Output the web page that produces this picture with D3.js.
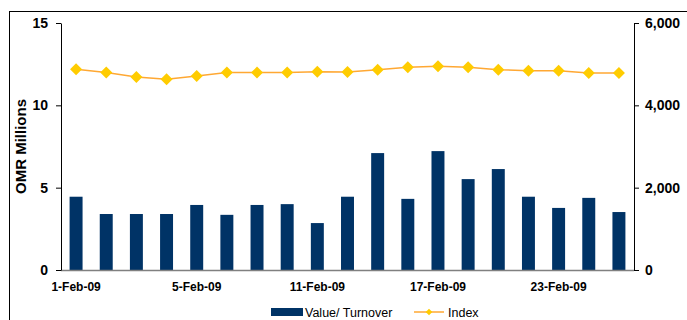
<!DOCTYPE html>
<html>
<head>
<meta charset="utf-8">
<script src="https://cdn.jsdelivr.net/npm/d3@7"></script>
<style>
  body { margin: 0; background: #fff; }
  svg { display: block; font-family: "Liberation Sans", Arial, sans-serif; }
  .tick text { font-weight: bold; fill: #000; }
</style>
</head>
<body>
<script>
// trading days shown on the x axis
var dates = ["1-Feb-09", "2-Feb-09", "3-Feb-09", "4-Feb-09", "5-Feb-09",
             "8-Feb-09", "9-Feb-09", "10-Feb-09", "11-Feb-09", "12-Feb-09",
             "15-Feb-09", "16-Feb-09", "17-Feb-09", "18-Feb-09", "19-Feb-09",
             "22-Feb-09", "23-Feb-09", "24-Feb-09", "25-Feb-09"];
var shownLabels = ["1-Feb-09", "5-Feb-09", "11-Feb-09", "17-Feb-09", "23-Feb-09"];

// value / turnover, OMR millions (left axis)
var turnover = [4.45, 3.40, 3.40, 3.40, 3.95, 3.35, 3.95, 4.00, 2.85, 4.45,
                7.10, 4.32, 7.22, 5.52, 6.13, 4.45, 3.77, 4.38, 3.52];

// market index (right axis)
var indexVals = [4875, 4795, 4690, 4635, 4712, 4800, 4795, 4795, 4817, 4810,
                 4866, 4923, 4947, 4923, 4866, 4842, 4842, 4787, 4787];

var leftTicks = [0, 5, 10, 15];
var rightTicks = [0, 2000, 4000, 6000];

var width = 687, height = 320;
var margin = {top: 23, right: 53, bottom: 50, left: 61};
var w = width - margin.left - margin.right;
var h = height - margin.top - margin.bottom;

var svg = d3.select("body").append("svg")
    .attr("width", width)
    .attr("height", height);

// chart frame
svg.append("rect")
    .attr("x", 9.5).attr("y", 11.5)
    .attr("width", 700).attr("height", 400)
    .attr("fill", "none").attr("stroke", "#000").attr("stroke-width", 1);

var g = svg.append("g")
    .attr("transform", "translate(" + margin.left + "," + margin.top + ")");

var x = d3.scaleBand().domain(dates).range([0, w]).paddingInner(0.57).paddingOuter(0.285);
var xPoint = function(d) { return x(d) + x.bandwidth() / 2; };
var yL = d3.scaleLinear().domain([0, 15]).range([h, 0]);
var yR = d3.scaleLinear().domain([0, 6000]).range([h, 0]);

// bars
g.selectAll("rect.bar")
    .data(turnover)
    .enter().append("rect")
    .attr("class", "bar")
    .attr("x", function(d, i) { return x(dates[i]); })
    .attr("y", function(d) { return yL(d); })
    .attr("width", x.bandwidth())
    .attr("height", function(d) { return h - yL(d); })
    .attr("fill", "#003366");

// x axis
var xAxis = g.append("g")
    .attr("transform", "translate(0," + h + ")")
    .call(d3.axisBottom(x).tickSize(0).tickPadding(12)
          .tickValues(shownLabels));
xAxis.select(".domain").attr("stroke", "#808080").attr("stroke-width", 1.3)
    .attr("d", "M0,0.5H" + w);
xAxis.selectAll("text").style("font-size", "12px");

// left axis
var leftAxis = g.append("g")
    .call(d3.axisLeft(yL).tickValues(leftTicks).tickSizeInner(5).tickSizeOuter(0).tickPadding(8));
leftAxis.selectAll("text").style("font-size", "14px");
leftAxis.select(".domain").attr("stroke", "#000");

// right axis
var rightAxis = g.append("g")
    .attr("transform", "translate(" + w + ",0)")
    .call(d3.axisRight(yR).tickValues(rightTicks).tickSizeInner(5).tickSizeOuter(0).tickPadding(6)
          .tickFormat(d3.format(",")));
rightAxis.selectAll("text").style("font-size", "14px");
rightAxis.select(".domain").attr("stroke", "#000");

// axis title
svg.append("text")
    .attr("transform", "translate(26," + (margin.top + h / 2) + ") rotate(-90)")
    .attr("text-anchor", "middle")
    .style("font-size", "15px")
    .style("font-weight", "bold")
    .text("OMR Millions");

// index line
var line = d3.line()
    .x(function(d, i) { return xPoint(dates[i]); })
    .y(function(d) { return yR(d); });

g.append("path")
    .datum(indexVals)
    .attr("fill", "none")
    .attr("stroke", "#FFA833")
    .attr("stroke-width", 1.5)
    .attr("d", line);

var diamond = d3.symbol().type(d3.symbolDiamond2).size(75);
g.selectAll("path.marker")
    .data(indexVals)
    .enter().append("path")
    .attr("class", "marker")
    .attr("transform", function(d, i) {
        return "translate(" + xPoint(dates[i]) + "," + yR(d) + ") rotate(45)";
    })
    .attr("d", d3.symbol().type(d3.symbolSquare).size(72))
    .attr("fill", "#FFCC00");

// legend
var legend = svg.append("g").attr("transform", "translate(0,312)");
legend.append("rect")
    .attr("x", 271).attr("y", -4)
    .attr("width", 32).attr("height", 8)
    .attr("fill", "#003366");
legend.append("text")
    .attr("x", 305).attr("y", 4.5)
    .style("font-size", "12.5px")
    .text("Value/ Turnover");
legend.append("line")
    .attr("x1", 414).attr("x2", 444)
    .attr("y1", 0).attr("y2", 0)
    .attr("stroke", "#FFA833").attr("stroke-width", 1.5);
legend.append("path")
    .attr("transform", "translate(429,0) rotate(45)")
    .attr("d", d3.symbol().type(d3.symbolSquare).size(22))
    .attr("fill", "#FFCC00");
legend.append("text")
    .attr("x", 448).attr("y", 4.5)
    .style("font-size", "12.5px")
    .text("Index");
</script>
</body>
</html>
